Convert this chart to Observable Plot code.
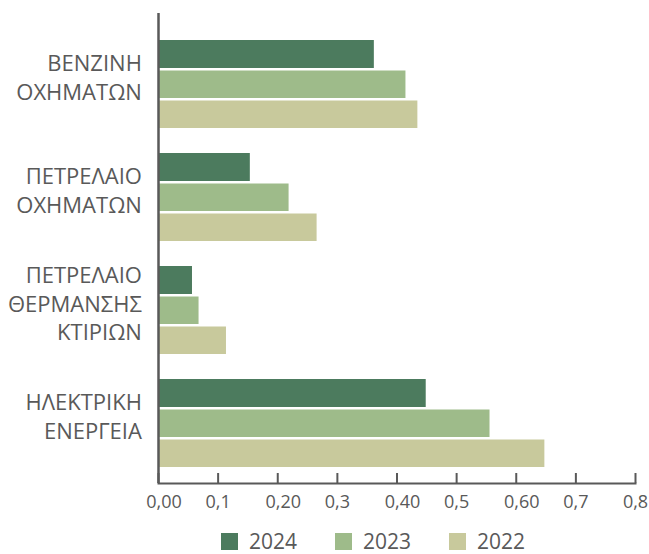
<!DOCTYPE html>
<html>
<head>
<meta charset="utf-8">
<script src="https://cdn.jsdelivr.net/npm/d3@7"></script>
<script src="https://cdn.jsdelivr.net/npm/@observablehq/plot@0.6"></script>
<style>
  body { margin: 0; background: #fff; }
  #wrap { position: relative; width: 649px; height: 554px; font-family: "Open Sans", sans-serif; color: #595959; }
  #legend { position: absolute; top: 529px; left: 221px; display: flex; align-items: center; font-size: 21px; line-height: 24px; height: 24px; }
  .item { display: flex; align-items: center; margin-right: 38px; }
  .sw { width: 17px; height: 17px; margin-right: 11px; }
</style>
</head>
<body>
<div id="wrap"><div id="chart"></div><div id="legend"></div></div>
<script>
const categories = ["ΒΕΝΖΙΝΗ\nΟΧΗΜΑΤΩΝ", "ΠΕΤΡΕΛΑΙΟ\nΟΧΗΜΑΤΩΝ", "ΠΕΤΡΕΛΑΙΟ\nΘΕΡΜΑΝΣΗΣ\nΚΤΙΡΙΩΝ", "ΗΛΕΚΤΡΙΚΗ\nΕΝΕΡΓΕΙΑ"];
const years = ["2024", "2023", "2022"];
const values2024 = [0.362, 0.154, 0.057, 0.449];
const values2023 = [0.415, 0.219, 0.068, 0.556];
const values2022 = [0.435, 0.266, 0.114, 0.648];
const colors = ["#4c7b5e", "#9ebb8a", "#c8c99c"];
const xTicks = [0, 0.1, 0.2, 0.3, 0.4, 0.5, 0.6, 0.7, 0.8];
const xTickLabels = ["0,00", "0,1", "0,20", "0,3", "0,40", "0,5", "0,60", "0,7", "0,8"];

const series = [values2024, values2023, values2022];
const data = [];
years.forEach((yr, j) => categories.forEach((c, i) => data.push({category: c, year: yr, value: series[j][i]})));

const labelOf = v => xTickLabels[xTicks.indexOf(v)];
const longTicks = xTicks.filter(v => labelOf(v).length > 3);
const shortTicks = xTicks.filter(v => labelOf(v).length <= 3);

const insets = [[0, 60], [30.5, 30], [60.5, 0]];
const axisColor = "#595959";

const chart = Plot.plot({
  width: 649,
  height: 520,
  marginLeft: 158,
  marginRight: 14,
  marginTop: 13,
  marginBottom: 37,
  style: {fontFamily: "Open Sans", fontSize: "18px", color: axisColor, background: "#fff"},
  x: {domain: [0, 0.8], label: null},
  y: {domain: categories, paddingInner: 0.2233, paddingOuter: 0.186, align: 0.618, axis: null},
  marks: [
    ...years.map((yr, j) => Plot.barX(data.filter(d => d.year === yr), {
      x: "value", y: "category", fill: colors[j],
      insetTop: insets[j][0], insetBottom: insets[j][1]
    })),
    Plot.ruleX([0], {stroke: axisColor, strokeWidth: 2.5}),
    Plot.frame({anchor: "bottom", stroke: axisColor, strokeWidth: 2}),
    Plot.axisX({ticks: xTicks, tickSize: -10, text: null, stroke: axisColor, strokeWidth: 2, label: null}),
    Plot.axisX({ticks: shortTicks, tickSize: 0, tickPadding: 12, tickFormat: labelOf, fill: axisColor, fontSize: 18, label: null}),
    Plot.axisX({ticks: longTicks, tickSize: 0, tickPadding: 12, dx: 5.5, tickFormat: labelOf, fill: axisColor, fontSize: 18, label: null}),
    Plot.text(categories, {
      y: d => d, frameAnchor: "left", dx: -16.6, dy: -8, textAnchor: "end",
      lineAnchor: "middle", lineHeight: 1.3, fontSize: 22, fill: axisColor
    })
  ]
});
document.getElementById("chart").appendChild(chart);

const legend = document.getElementById("legend");
years.forEach((yr, j) => {
  const item = document.createElement("div");
  item.className = "item";
  const sw = document.createElement("div");
  sw.className = "sw";
  sw.style.background = colors[j];
  const t = document.createElement("span");
  t.textContent = yr;
  item.appendChild(sw);
  item.appendChild(t);
  legend.appendChild(item);
});
</script>
</body>
</html>
